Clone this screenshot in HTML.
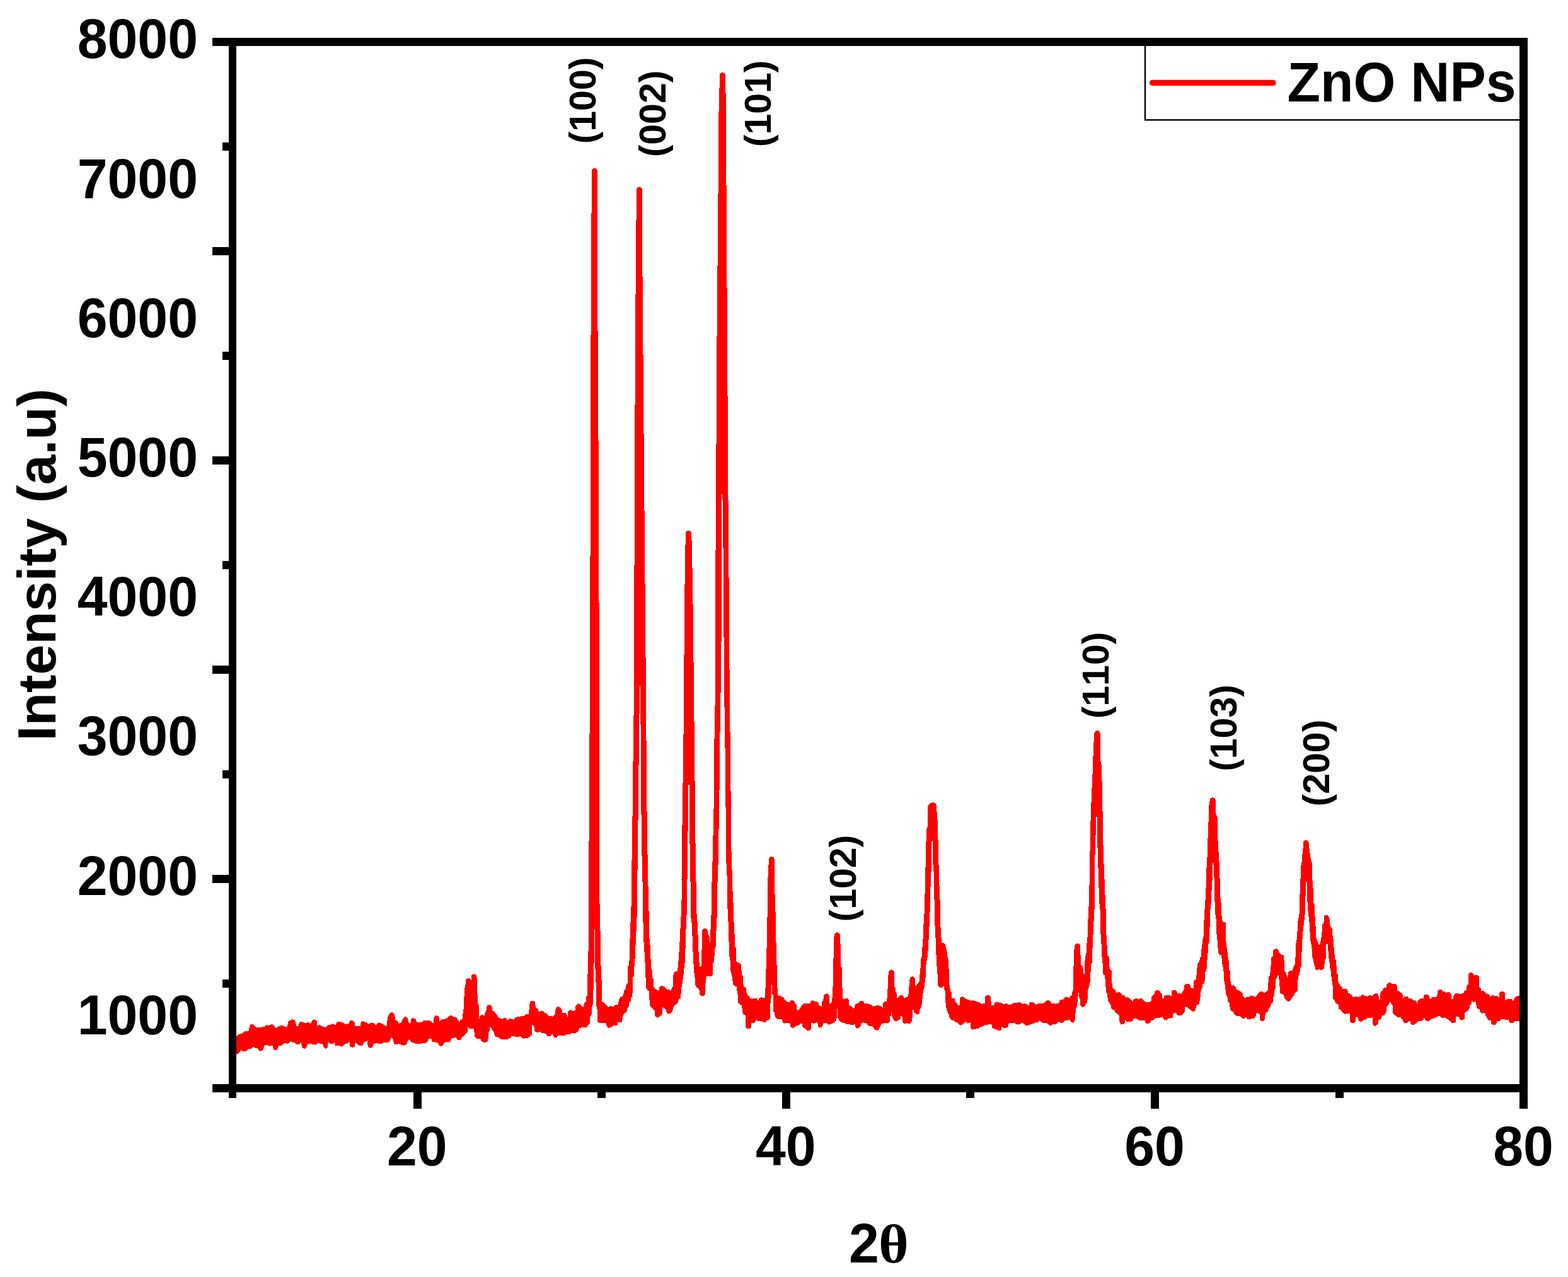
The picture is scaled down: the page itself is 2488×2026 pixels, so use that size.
<!DOCTYPE html>
<html lang="en"><head><meta charset="utf-8"><title>XRD pattern of ZnO NPs</title>
<style>html,body{margin:0;padding:0;background:#fff;overflow:hidden}svg{display:block}</style></head>
<body>
<svg width="2488" height="2026" viewBox="0 0 2488 2026">
<rect width="2488" height="2026" fill="#fff"/>
<polygon points="375.0,1644.5 374.8,1644.5 378.3,1641.0 384.6,1639.3 388.1,1636.1 394.5,1635.4 396.9,1625.5 402.2,1625.2 406.4,1629.8 416.3,1629.5 419.1,1629.0 421.9,1626.2 426.1,1626.9 431.8,1624.8 435.3,1627.6 437.4,1631.2 444.4,1627.2 448.6,1627.2 451.5,1629.0 455.7,1628.6 457.8,1619.9 464.1,1617.1 468.3,1619.2 470.5,1627.6 473.3,1627.6 475.4,1621.6 479.6,1621.0 483.1,1623.0 488.7,1622.2 493.0,1623.8 495.8,1618.2 498.6,1617.1 502.4,1619.2 503.5,1626.9 507.7,1626.2 512.7,1629.0 516.2,1629.8 519.7,1626.7 523.9,1626.2 528.1,1624.1 532.4,1626.7 534.5,1621.6 538.7,1621.0 544.3,1622.4 548.5,1624.8 553.5,1624.1 554.9,1619.6 559.8,1619.2 562.6,1622.0 563.3,1628.1 571.8,1628.1 572.7,1621.3 576.0,1620.2 582.3,1622.7 585.1,1624.8 589.4,1622.3 593.6,1623.4 596.4,1626.9 597.8,1624.1 601.3,1622.3 606.2,1624.1 611.2,1626.9 613.3,1628.3 615.4,1612.9 618.9,1607.2 622.0,1605.8 625.9,1608.6 627.3,1617.8 631.6,1621.0 633.0,1623.8 636.5,1622.7 639.3,1615.7 642.8,1612.9 647.0,1615.0 648.4,1622.0 651.3,1624.1 652.0,1617.1 654.8,1615.0 660.0,1617.1 660.0,1619.3 663.5,1622.4 668.4,1621.7 673.4,1618.9 677.6,1619.6 681.1,1618.9 685.3,1621.7 687.9,1623.8 688.6,1613.3 692.4,1610.9 696.3,1612.6 697.3,1620.3 700.8,1617.5 704.3,1616.8 708.5,1616.1 712.8,1611.9 716.3,1610.9 720.5,1614.0 724.0,1614.3 726.1,1616.8 728.7,1621.3 730.4,1618.5 733.4,1617.5 734.6,1606.9 736.0,1597.1 736.7,1576.0 737.7,1564.7 738.8,1560.5 739.5,1553.5 743.0,1551.8 746.5,1553.2 747.5,1554.9 748.4,1547.1 752.2,1545.0 756.4,1547.1 757.1,1566.8 757.8,1585.8 758.5,1591.5 759.6,1595.4 760.2,1617.5 761.3,1612.6 764.1,1610.0 769.0,1611.2 769.8,1606.2 772.3,1601.3 772.6,1595.7 776.1,1594.0 780.3,1595.7 781.0,1602.7 783.8,1604.4 786.6,1608.6 788.7,1610.5 790.9,1614.7 795.1,1615.7 797.2,1616.8 799.3,1615.1 802.8,1615.4 805.6,1618.9 807.7,1616.5 811.3,1616.1 814.5,1617.9 816.9,1615.4 821.8,1612.6 826.0,1612.6 828.8,1611.9 832.4,1611.4 833.8,1609.0 838.7,1608.6 839.4,1602.7 840.4,1593.6 841.5,1589.3 845.0,1587.9 848.5,1589.3 850.0,1598.5 852.1,1599.2 854.2,1601.6 854.9,1605.8 858.4,1603.8 861.2,1604.1 864.7,1606.9 867.5,1608.1 869.7,1611.2 872.5,1611.9 876.7,1612.6 879.5,1610.0 881.2,1609.8 881.6,1599.2 885.1,1597.1 888.6,1597.8 891.5,1602.0 892.2,1606.9 897.1,1606.9 899.2,1609.0 900.3,1614.7 901.3,1604.8 904.8,1602.0 909.8,1604.1 912.6,1603.0 913.3,1595.7 917.5,1592.2 921.0,1593.6 923.1,1597.1 925.9,1597.8 927.3,1591.5 929.9,1588.6 930.4,1581.6 932.3,1579.5 932.5,1545.0 933.3,1511.3 934.4,1500.0 934.0,1420.0 935.9,1100.0 936.9,750.0 937.9,400.0 939.2,270.9 939.5,269.3 940.4,267.9 941.8,267.0 943.5,266.7 945.1,267.0 946.5,267.9 947.4,269.3 947.7,270.9 947.8,400.0 949.8,750.0 951.0,1100.0 951.1,1420.0 951.1,1420.0 952.2,1456.6 953.4,1529.7 954.5,1553.8 955.0,1588.8 958.1,1590.3 961.2,1594.2 965.1,1597.7 969.0,1596.1 972.9,1597.0 976.8,1594.2 981.0,1593.9 982.2,1585.7 985.0,1581.5 988.1,1580.5 989.7,1575.6 990.8,1571.2 992.8,1568.6 993.6,1561.9 995.5,1560.0 996.2,1533.6 998.3,1531.2 999.3,1496.2 1000.4,1465.9 1001.4,1441.8 1002.1,1420.0 1002.1,1420.0 1002.4,1372.0 1003.4,1305.6 1004.4,1216.0 1006.0,1100.0 1006.9,750.0 1008.9,400.0 1010.1,300.7 1010.4,299.1 1011.4,297.7 1012.8,296.7 1014.5,296.4 1016.1,296.7 1017.5,297.7 1018.5,299.1 1018.8,300.7 1019.2,400.0 1022.0,750.0 1025.0,1100.0 1026.0,1249.0 1027.0,1322.8 1028.0,1388.0 1028.9,1420.0 1028.9,1420.0 1029.7,1451.9 1030.5,1489.2 1031.7,1500.9 1032.8,1528.9 1033.6,1537.5 1034.8,1540.6 1035.4,1551.5 1036.7,1553.8 1037.0,1564.7 1039.8,1569.3 1042.9,1570.1 1045.2,1573.2 1046.0,1567.0 1047.6,1565.0 1051.5,1563.9 1054.6,1566.2 1059.2,1570.1 1062.3,1570.1 1064.7,1571.7 1066.2,1566.2 1068.1,1565.5 1068.6,1543.7 1070.9,1541.7 1074.8,1541.0 1075.6,1535.9 1076.3,1527.3 1077.4,1511.8 1078.4,1496.2 1079.5,1472.9 1080.7,1451.1 1081.8,1420.0 1081.8,1420.0 1081.5,1396.0 1082.0,1339.0 1083.0,1281.5 1084.5,1166.5 1085.1,1100.0 1086.1,957.0 1087.3,870.0 1088.1,846.2 1088.4,844.4 1089.4,843.0 1090.8,842.0 1092.5,841.7 1094.3,842.0 1095.7,843.0 1096.7,844.4 1097.0,846.2 1097.8,865.0 1098.8,915.0 1099.8,977.0 1100.8,1081.0 1101.6,1153.0 1102.6,1247.0 1103.6,1347.0 1104.6,1404.0 1105.1,1420.0 1105.1,1420.0 1105.4,1448.8 1106.7,1465.1 1107.8,1489.2 1108.7,1514.9 1109.8,1529.7 1110.1,1534.0 1112.9,1532.8 1113.4,1511.8 1114.2,1476.0 1116.0,1473.7 1119.1,1472.9 1122.2,1474.4 1123.8,1482.2 1125.7,1486.9 1126.1,1494.7 1127.2,1494.7 1127.4,1476.0 1128.5,1452.7 1129.2,1420.0 1129.2,1420.0 1129.4,1403.0 1130.4,1372.0 1131.5,1324.8 1132.5,1284.5 1133.5,1172.6 1134.9,1100.0 1134.9,1016.0 1135.9,787.0 1136.9,654.0 1137.9,458.5 1138.9,400.0 1139.5,308.8 1140.3,184.4 1141.4,145.0 1142.0,119.4 1142.3,117.7 1143.3,116.3 1144.7,115.3 1146.3,115.0 1148.0,115.3 1149.4,116.3 1150.4,117.7 1150.7,119.4 1151.7,155.0 1152.8,344.0 1153.6,471.6 1154.6,643.0 1155.6,808.5 1156.7,937.5 1157.7,1090.7 1158.7,1175.6 1159.7,1272.0 1160.7,1369.0 1161.7,1383.0 1162.7,1420.0 1162.7,1420.0 1163.5,1432.4 1164.6,1465.9 1165.8,1486.9 1166.6,1503.2 1167.8,1504.8 1168.1,1525.0 1170.5,1526.6 1173.6,1528.1 1175.9,1530.5 1176.4,1539.0 1177.5,1546.0 1178.7,1548.3 1179.5,1562.3 1180.6,1565.9 1183.4,1566.5 1184.2,1574.8 1186.0,1578.4 1188.4,1580.2 1190.4,1583.7 1194.6,1584.6 1196.9,1584.1 1201.6,1584.1 1203.1,1588.8 1204.4,1583.7 1207.8,1582.1 1210.9,1583.0 1213.7,1582.6 1214.3,1574.0 1215.3,1543.7 1216.4,1510.2 1217.4,1458.9 1218.4,1420.0 1218.4,1420.0 1218.1,1400.0 1219.2,1376.0 1220.2,1363.2 1220.5,1361.6 1221.4,1360.2 1222.8,1359.3 1224.4,1359.0 1226.0,1359.3 1227.4,1360.2 1228.3,1361.6 1228.6,1363.2 1229.6,1423.6 1229.6,1430.0 1229.6,1430.0 1230.6,1448.7 1231.2,1484.4 1232.4,1524.9 1233.2,1562.2 1234.0,1577.0 1235.6,1580.1 1238.7,1580.1 1242.6,1582.1 1244.9,1585.6 1248.8,1589.5 1252.7,1589.9 1254.2,1587.4 1258.1,1587.1 1260.8,1589.5 1261.7,1592.6 1263.9,1593.3 1264.3,1601.9 1266.7,1602.7 1270.6,1598.0 1272.9,1594.1 1276.8,1591.5 1283.0,1591.5 1285.3,1591.8 1286.9,1588.4 1290.0,1587.1 1293.1,1589.0 1296.2,1589.0 1298.6,1591.0 1299.3,1594.6 1303.7,1596.8 1304.3,1589.0 1306.3,1587.1 1307.4,1578.6 1311.0,1576.2 1314.1,1577.8 1315.7,1580.1 1316.1,1591.8 1318.8,1591.8 1320.3,1587.9 1320.8,1575.5 1321.9,1559.9 1322.4,1526.5 1323.1,1487.6 1324.5,1481.3 1328.1,1479.0 1331.7,1480.6 1333.1,1483.7 1333.6,1501.6 1334.3,1533.5 1335.9,1535.8 1336.4,1562.2 1337.0,1584.8 1339.0,1585.6 1341.3,1584.0 1344.5,1584.5 1346.8,1586.8 1347.3,1594.9 1350.7,1596.1 1354.1,1599.9 1356.1,1599.3 1356.6,1594.1 1359.2,1592.1 1362.3,1591.8 1363.9,1588.7 1367.8,1587.9 1370.9,1589.5 1371.7,1592.6 1375.6,1592.1 1381.8,1593.7 1384.9,1596.8 1388.8,1595.7 1391.9,1594.9 1397.3,1596.1 1400.5,1598.8 1401.2,1591.0 1403.6,1589.0 1407.0,1589.0 1407.9,1580.9 1408.6,1566.9 1409.3,1548.2 1410.6,1540.5 1414.5,1538.1 1417.9,1539.7 1418.8,1542.0 1419.1,1565.3 1420.7,1567.7 1421.2,1573.1 1422.7,1576.2 1423.3,1583.2 1426.1,1581.7 1427.7,1579.3 1431.6,1579.0 1433.9,1580.9 1435.2,1584.8 1437.8,1581.7 1441.2,1580.9 1442.5,1564.6 1443.6,1552.9 1445.6,1549.8 1448.7,1549.0 1451.8,1552.1 1452.6,1564.6 1454.9,1562.2 1458.8,1556.8 1459.6,1545.1 1460.7,1534.2 1461.4,1521.8 1463.0,1516.3 1463.5,1503.1 1464.6,1488.3 1465.5,1466.6 1466.6,1448.7 1467.0,1430.0 1467.0,1430.0 1467.3,1421.7 1468.1,1406.7 1468.7,1361.7 1469.6,1331.8 1470.4,1315.0 1471.9,1311.0 1472.2,1280.0 1473.1,1277.0 1476.5,1274.3 1480.8,1273.0 1484.0,1274.0 1485.4,1276.5 1486.0,1277.0 1486.6,1289.7 1487.7,1303.0 1488.3,1318.0 1488.9,1356.6 1490.0,1383.6 1491.0,1425.7 1491.8,1430.0 1491.8,1430.0 1492.2,1465.8 1493.3,1484.4 1494.1,1496.1 1499.2,1496.6 1500.3,1501.6 1502.4,1509.3 1503.9,1521.0 1505.0,1523.3 1505.5,1537.3 1506.2,1561.5 1508.1,1572.3 1509.7,1574.7 1510.6,1584.0 1514.8,1584.3 1515.9,1589.9 1518.7,1591.8 1520.2,1595.2 1523.0,1594.9 1523.4,1583.2 1526.2,1581.2 1529.6,1581.7 1531.9,1584.8 1535.0,1585.6 1538.1,1586.3 1540.0,1587.9 1540.0,1587.9 1543.1,1587.1 1547.0,1587.9 1550.9,1589.5 1555.6,1591.0 1557.9,1593.0 1560.2,1592.1 1562.9,1591.8 1563.3,1581.7 1565.7,1579.3 1569.6,1579.0 1571.9,1580.9 1572.4,1587.9 1573.1,1594.9 1577.0,1594.9 1578.1,1591.0 1580.8,1589.5 1584.3,1589.5 1586.7,1591.0 1589.8,1591.5 1592.9,1593.7 1595.2,1592.1 1598.3,1592.6 1600.7,1594.1 1603.8,1594.1 1606.1,1592.1 1609.2,1591.0 1614.7,1591.0 1617.0,1589.9 1620.1,1591.0 1622.5,1593.0 1625.6,1592.1 1629.5,1593.0 1631.8,1596.1 1633.3,1591.0 1635.7,1589.5 1639.6,1589.5 1641.9,1592.6 1645.0,1593.7 1647.3,1592.1 1655.9,1592.1 1658.2,1589.5 1661.3,1587.4 1665.2,1587.4 1667.6,1589.5 1668.3,1591.8 1672.2,1591.5 1674.6,1592.6 1676.9,1591.5 1680.0,1592.1 1681.3,1587.1 1683.1,1585.9 1687.0,1585.6 1689.3,1582.5 1694.0,1582.1 1696.3,1583.2 1698.7,1580.1 1701.0,1578.6 1701.5,1573.9 1702.6,1570.8 1703.0,1552.9 1704.1,1509.3 1705.2,1500.0 1707.2,1497.2 1712.7,1497.2 1713.9,1499.2 1714.2,1505.5 1715.0,1531.1 1717.3,1532.7 1718.6,1537.3 1719.7,1545.1 1720.5,1545.9 1721.2,1527.2 1722.3,1517.1 1723.9,1510.9 1724.3,1497.7 1725.4,1490.7 1726.4,1460.3 1727.5,1437.8 1728.2,1430.0 1728.2,1430.0 1728.8,1380.0 1729.5,1351.0 1730.7,1293.4 1731.8,1265.7 1733.5,1228.8 1734.8,1192.0 1736.0,1166.0 1736.5,1163.5 1736.8,1161.8 1737.8,1160.3 1739.3,1159.3 1741.0,1159.0 1742.8,1159.3 1744.3,1160.3 1745.3,1161.8 1745.6,1163.5 1746.1,1166.0 1746.4,1208.0 1748.0,1215.0 1748.7,1247.3 1749.6,1291.0 1750.7,1351.0 1751.9,1380.0 1753.9,1430.0 1753.9,1430.0 1754.7,1445.6 1755.2,1480.6 1756.2,1490.7 1757.0,1514.8 1759.7,1518.7 1760.1,1531.9 1761.2,1537.3 1763.7,1540.5 1764.0,1549.0 1764.8,1566.9 1767.9,1569.2 1770.2,1570.8 1771.0,1575.5 1773.4,1574.4 1776.5,1574.4 1779.3,1576.2 1779.9,1579.3 1783.5,1579.3 1785.8,1581.7 1786.6,1583.2 1788.9,1582.1 1791.2,1583.2 1794.4,1586.3 1797.5,1589.5 1798.6,1585.9 1801.4,1584.3 1804.5,1584.3 1806.3,1585.9 1808.4,1584.3 1811.5,1584.3 1814.6,1587.4 1817.7,1589.5 1822.4,1589.5 1824.4,1589.9 1827.0,1587.1 1827.5,1580.9 1829.4,1578.6 1831.7,1577.0 1832.5,1573.1 1834.8,1571.3 1838.7,1571.3 1841.0,1573.9 1841.8,1576.2 1843.7,1577.0 1844.1,1584.0 1846.8,1584.3 1847.2,1580.6 1849.6,1578.6 1855.0,1578.6 1858.9,1580.1 1859.2,1572.3 1860.0,1572.3 1860.0,1571.5 1863.1,1570.4 1865.9,1571.5 1868.6,1575.7 1872.4,1576.1 1874.8,1576.9 1877.1,1572.2 1878.4,1570.7 1879.0,1563.7 1881.0,1561.0 1886.4,1561.0 1888.8,1562.9 1889.6,1567.9 1893.0,1568.4 1893.9,1568.4 1894.2,1556.7 1896.1,1554.3 1898.1,1553.6 1898.9,1541.1 1900.1,1530.2 1901.2,1527.1 1903.2,1524.8 1904.3,1519.3 1905.9,1517.5 1906.4,1506.9 1907.4,1498.8 1908.5,1489.8 1909.8,1484.8 1910.1,1467.2 1911.3,1445.5 1912.4,1429.9 1913.4,1415.1 1914.1,1381.7 1915.2,1370.0 1915.2,1370.0 1916.2,1337.0 1917.3,1314.0 1918.0,1279.5 1919.4,1272.0 1919.7,1269.8 1920.0,1268.1 1921.0,1266.6 1922.5,1265.6 1924.2,1265.3 1925.9,1265.6 1927.4,1266.6 1928.4,1268.1 1928.7,1269.8 1929.5,1291.0 1931.6,1298.0 1932.3,1330.0 1933.5,1351.0 1934.7,1370.0 1934.7,1370.0 1935.0,1393.3 1935.9,1393.3 1936.2,1422.1 1937.5,1432.2 1938.1,1450.1 1939.3,1459.5 1940.9,1462.6 1943.7,1463.3 1944.8,1464.9 1945.3,1492.1 1946.3,1501.5 1947.4,1509.2 1948.4,1518.6 1949.5,1524.0 1950.2,1538.0 1951.5,1540.3 1952.1,1555.1 1953.3,1560.1 1954.1,1563.7 1958.0,1563.2 1960.3,1565.2 1961.9,1569.9 1965.8,1571.5 1968.9,1573.5 1971.7,1576.1 1972.8,1580.8 1975.1,1583.4 1977.5,1581.9 1982.1,1581.6 1983.7,1580.0 1986.8,1579.2 1989.9,1580.8 1992.2,1581.9 1994.6,1578.5 1999.2,1573.5 2003.1,1573.0 2005.5,1575.0 2008.6,1573.8 2011.7,1570.7 2013.2,1548.9 2014.8,1547.3 2016.3,1537.2 2017.1,1519.3 2019.5,1517.0 2020.2,1507.7 2022.6,1505.7 2025.7,1505.3 2028.3,1506.9 2029.6,1510.8 2032.4,1514.4 2035.0,1514.7 2037.3,1517.0 2038.1,1540.3 2041.2,1543.5 2042.0,1551.2 2043.3,1550.5 2043.9,1541.9 2046.7,1540.3 2050.6,1539.9 2052.9,1533.3 2054.8,1529.5 2055.7,1516.2 2056.3,1496.8 2057.6,1490.6 2058.4,1479.7 2059.4,1461.8 2060.7,1454.8 2061.9,1447.8 2062.2,1426.8 2063.3,1401.1 2064.1,1374.7 2065.4,1370.0 2065.4,1370.0 2066.0,1360.0 2068.0,1341.0 2068.0,1337.2 2068.3,1335.6 2069.2,1334.2 2070.6,1333.3 2072.2,1333.0 2073.9,1333.3 2075.3,1334.2 2076.2,1335.6 2076.5,1337.2 2076.8,1341.0 2079.3,1360.0 2081.7,1370.0 2081.7,1370.0 2081.7,1395.7 2082.8,1397.2 2083.2,1408.9 2084.0,1410.4 2084.3,1433.0 2085.6,1435.3 2086.4,1451.7 2087.4,1468.0 2088.4,1488.2 2089.9,1491.3 2091.0,1494.5 2092.6,1498.8 2094.1,1498.8 2094.9,1494.5 2096.2,1492.1 2096.8,1483.6 2097.7,1477.3 2098.3,1466.5 2100.4,1464.9 2100.8,1453.2 2102.7,1452.0 2106.6,1452.0 2108.6,1454.8 2109.7,1458.7 2110.5,1466.5 2111.7,1470.3 2113.6,1472.7 2114.4,1483.6 2115.4,1488.2 2116.4,1501.5 2117.5,1513.9 2118.2,1520.9 2119.5,1523.2 2120.6,1532.6 2121.4,1544.2 2122.6,1546.6 2123.7,1559.0 2126.0,1561.4 2127.3,1564.5 2129.4,1565.7 2130.7,1569.4 2133.8,1569.1 2136.9,1569.4 2138.5,1571.5 2139.2,1576.1 2142.4,1576.6 2144.7,1578.5 2146.2,1581.6 2151.7,1581.3 2155.6,1581.6 2158.7,1580.8 2160.0,1579.0 2162.5,1578.1 2165.7,1579.7 2169.5,1580.9 2172.0,1579.4 2175.2,1579.0 2177.7,1580.3 2180.3,1577.1 2183.4,1575.9 2187.2,1577.8 2188.1,1586.0 2189.8,1585.4 2190.1,1575.2 2191.7,1572.7 2193.6,1572.1 2194.4,1568.9 2196.7,1567.0 2199.9,1566.7 2200.3,1562.2 2202.4,1559.8 2205.6,1558.8 2208.8,1560.7 2211.9,1560.9 2215.1,1561.3 2216.7,1563.8 2217.0,1572.1 2219.3,1572.1 2222.1,1574.6 2224.0,1575.6 2225.9,1578.4 2226.1,1585.0 2227.4,1582.2 2229.0,1581.2 2233.5,1581.2 2235.4,1584.1 2239.8,1584.1 2242.3,1587.0 2245.5,1587.0 2248.0,1589.2 2248.4,1592.3 2249.3,1588.3 2251.2,1586.2 2254.4,1584.1 2258.8,1584.1 2259.2,1579.4 2260.7,1578.1 2265.7,1578.1 2267.4,1579.7 2268.3,1583.5 2270.4,1584.7 2272.1,1582.2 2279.0,1581.9 2280.3,1579.4 2281.3,1571.8 2282.8,1570.2 2287.3,1570.2 2289.2,1572.7 2292.3,1573.1 2294.9,1574.8 2296.8,1574.3 2299.3,1574.3 2301.6,1575.9 2302.9,1577.4 2303.1,1585.0 2305.9,1585.0 2306.3,1579.9 2308.2,1577.4 2310.1,1576.1 2314.5,1576.1 2317.0,1577.8 2318.9,1576.5 2322.1,1575.6 2323.4,1572.3 2326.9,1570.8 2327.4,1563.8 2328.4,1561.9 2330.0,1561.9 2330.3,1545.7 2332.2,1543.3 2335.4,1543.2 2337.9,1545.5 2339.6,1547.7 2340.5,1547.1 2344.3,1547.1 2346.8,1549.3 2347.2,1565.7 2349.7,1568.0 2350.2,1572.1 2353.1,1572.3 2356.0,1573.3 2357.6,1575.9 2361.4,1577.4 2363.9,1579.9 2364.9,1581.9 2366.2,1579.7 2368.3,1579.0 2370.9,1579.9 2375.3,1579.9 2377.8,1581.6 2378.8,1583.2 2379.1,1575.6 2381.4,1573.3 2385.4,1573.1 2387.7,1575.2 2388.2,1587.3 2391.1,1585.4 2394.3,1585.0 2398.1,1585.0 2400.0,1586.6 2400.6,1588.3 2402.5,1584.7 2403.8,1581.9 2407.0,1580.3 2410.1,1580.0 2412.0,1580.9 2412.0,1620.4 2408.9,1620.4 2407.0,1619.5 2403.8,1619.5 2401.9,1621.7 2399.4,1623.3 2396.8,1623.3 2394.9,1621.2 2393.7,1617.4 2391.8,1618.3 2388.6,1618.3 2386.1,1617.0 2382.9,1617.0 2380.4,1619.5 2377.2,1620.4 2375.3,1619.5 2374.7,1622.7 2373.4,1625.0 2370.9,1626.5 2368.3,1626.3 2366.4,1624.0 2365.8,1618.7 2362.6,1618.7 2360.7,1617.6 2359.5,1614.5 2357.6,1612.3 2356.9,1608.2 2355.7,1606.9 2352.5,1607.5 2350.0,1606.9 2348.4,1605.0 2347.4,1600.9 2345.5,1600.6 2343.4,1598.7 2342.4,1593.6 2341.7,1588.5 2339.8,1589.5 2337.3,1589.5 2335.2,1587.5 2334.8,1592.3 2332.2,1594.9 2331.6,1599.7 2329.7,1602.5 2327.8,1605.2 2325.9,1605.6 2324.0,1606.9 2323.6,1616.6 2321.5,1618.3 2318.9,1618.7 2317.0,1617.6 2315.5,1614.5 2313.9,1612.8 2310.1,1612.8 2309.7,1621.4 2307.5,1623.0 2305.0,1623.3 2303.1,1622.5 2301.2,1619.9 2299.3,1618.9 2298.0,1617.0 2295.5,1616.4 2293.6,1615.1 2292.3,1614.1 2290.4,1615.4 2287.9,1615.4 2286.0,1614.1 2284.7,1612.0 2281.6,1612.0 2279.7,1613.6 2277.8,1613.9 2274.6,1616.4 2270.4,1616.6 2268.9,1618.7 2267.0,1620.4 2263.2,1620.2 2261.3,1618.3 2260.7,1615.7 2259.4,1615.4 2258.8,1617.4 2256.3,1619.5 2251.2,1619.5 2249.3,1621.4 2246.8,1623.3 2244.2,1625.5 2239.8,1625.5 2238.5,1624.0 2237.9,1619.9 2235.4,1619.5 2234.7,1620.8 2231.6,1623.3 2229.0,1623.3 2227.1,1621.4 2225.6,1618.3 2224.0,1617.0 2222.7,1614.5 2217.0,1613.6 2213.8,1610.7 2211.3,1609.4 2210.3,1607.5 2209.8,1594.9 2208.1,1593.6 2206.9,1590.4 2205.0,1589.2 2203.7,1594.2 2201.8,1595.5 2200.3,1597.4 2199.9,1603.5 2198.6,1607.5 2196.7,1610.7 2193.2,1611.1 2191.7,1615.7 2189.8,1617.6 2187.2,1617.9 2186.8,1623.3 2185.3,1625.9 2182.8,1627.8 2179.6,1627.1 2178.1,1624.6 2177.7,1614.1 2175.8,1615.4 2172.7,1615.4 2170.1,1614.9 2167.0,1617.6 2163.2,1617.9 2161.9,1620.2 2160.0,1620.8 2157.9,1620.8 2155.6,1618.9 2154.8,1614.2 2150.9,1614.2 2150.6,1620.5 2148.6,1622.8 2143.9,1622.8 2142.4,1620.8 2141.6,1608.0 2137.7,1608.3 2133.8,1608.8 2131.5,1606.8 2128.8,1605.2 2127.6,1602.1 2124.5,1601.0 2123.7,1594.0 2119.0,1590.9 2117.5,1587.0 2115.4,1584.7 2114.8,1564.5 2113.6,1557.5 2112.3,1548.9 2111.7,1540.3 2110.5,1535.7 2109.7,1527.9 2108.4,1520.1 2107.4,1506.9 2106.6,1497.9 2104.2,1498.3 2103.9,1520.1 2101.9,1524.0 2101.1,1536.5 2099.6,1538.3 2095.2,1538.8 2094.1,1537.2 2092.6,1538.3 2088.7,1538.8 2086.8,1538.0 2086.4,1531.8 2084.8,1529.5 2084.0,1523.2 2082.5,1518.6 2081.7,1506.9 2080.6,1498.3 2079.4,1492.9 2078.3,1475.0 2077.5,1463.3 2076.2,1450.9 2075.2,1443.9 2074.4,1428.3 2074.4,1401.1 2073.1,1398.8 2072.4,1399.6 2071.9,1412.0 2070.8,1442.3 2070.3,1457.1 2069.2,1461.8 2067.7,1475.8 2066.9,1485.9 2065.7,1499.1 2065.4,1517.0 2064.6,1533.3 2063.0,1535.7 2062.6,1541.9 2061.5,1545.8 2059.9,1548.9 2059.1,1559.8 2058.8,1571.5 2056.8,1573.8 2054.5,1576.1 2053.7,1578.5 2050.6,1582.4 2048.6,1585.5 2045.9,1588.6 2043.3,1588.6 2040.5,1585.9 2038.6,1583.9 2036.6,1578.5 2034.2,1577.2 2031.4,1575.7 2030.8,1567.6 2029.6,1556.7 2029.3,1547.3 2028.0,1547.3 2026.1,1551.2 2024.1,1554.3 2023.7,1567.6 2022.6,1569.9 2021.8,1580.0 2020.2,1581.9 2019.5,1589.7 2016.3,1594.0 2015.6,1597.4 2013.2,1600.2 2012.5,1603.4 2010.1,1606.2 2007.8,1607.2 2007.0,1617.0 2004.7,1619.7 2001.6,1619.7 1999.2,1617.4 1998.5,1608.8 1995.3,1606.8 1993.5,1608.0 1992.2,1613.0 1989.9,1615.8 1986.0,1615.5 1983.7,1617.4 1979.0,1617.4 1977.0,1613.5 1975.1,1615.5 1971.2,1615.5 1967.3,1611.9 1960.3,1611.4 1958.3,1608.8 1957.2,1604.9 1953.3,1604.1 1951.8,1601.0 1951.0,1591.7 1948.4,1588.6 1947.4,1581.6 1945.6,1578.5 1944.8,1572.2 1943.7,1562.9 1942.5,1556.7 1941.7,1542.7 1940.9,1534.9 1939.7,1531.8 1938.6,1520.9 1937.8,1515.0 1935.5,1514.7 1933.4,1512.3 1932.3,1501.5 1931.6,1491.3 1930.3,1480.5 1929.7,1458.7 1928.5,1450.9 1927.2,1425.2 1926.6,1396.4 1926.1,1374.7 1925.0,1370.0 1925.0,1370.0 1924.4,1369.4 1923.8,1370.0 1923.8,1370.0 1923.5,1398.0 1922.5,1413.6 1921.8,1433.0 1920.4,1443.9 1919.9,1469.6 1918.8,1472.7 1918.6,1495.2 1917.2,1499.1 1916.8,1509.2 1915.7,1520.1 1914.8,1534.9 1913.7,1541.1 1912.1,1542.7 1911.6,1555.9 1910.6,1560.1 1908.2,1561.0 1907.4,1567.6 1905.9,1569.9 1905.1,1576.9 1904.0,1585.5 1902.8,1592.5 1900.8,1594.3 1898.1,1595.3 1897.0,1602.6 1895.0,1604.6 1891.9,1604.6 1888.8,1602.1 1885.7,1599.9 1884.1,1597.9 1881.8,1597.4 1880.2,1596.4 1879.4,1606.5 1876.3,1609.6 1874.0,1610.8 1867.8,1610.8 1865.9,1607.2 1861.6,1607.2 1860.8,1615.0 1860.0,1615.0 1860.0,1615.4 1857.4,1615.4 1854.3,1615.9 1850.4,1618.6 1847.2,1617.9 1845.7,1615.4 1844.9,1613.3 1841.8,1614.3 1838.7,1615.1 1835.6,1615.4 1832.8,1615.4 1830.1,1618.6 1826.2,1619.0 1825.0,1622.9 1820.8,1624.5 1817.7,1622.9 1816.9,1619.0 1813.8,1619.0 1806.8,1618.6 1802.9,1615.9 1799.0,1615.9 1796.7,1620.1 1792.8,1621.4 1787.4,1621.4 1785.5,1617.5 1785.0,1622.1 1783.5,1624.5 1778.3,1624.5 1776.5,1621.4 1775.7,1611.7 1773.4,1608.9 1769.9,1607.0 1768.7,1602.7 1766.4,1602.4 1763.7,1601.1 1762.8,1595.7 1761.2,1592.6 1759.0,1588.7 1757.8,1586.3 1757.0,1576.2 1755.5,1574.7 1754.7,1568.5 1753.6,1554.5 1753.1,1546.7 1751.6,1546.7 1750.5,1545.1 1750.0,1531.1 1748.8,1524.1 1747.7,1498.5 1746.6,1489.9 1746.1,1449.4 1745.0,1437.8 1744.1,1430.0 1744.1,1430.0 1742.7,1380.0 1742.2,1371.7 1741.0,1325.6 1740.6,1296.0 1740.0,1293.4 1739.4,1296.0 1738.8,1316.4 1737.6,1351.0 1737.1,1380.0 1737.1,1430.0 1737.1,1430.0 1736.3,1447.1 1735.2,1466.6 1734.2,1491.4 1733.2,1509.3 1732.9,1527.2 1731.4,1529.6 1730.6,1539.7 1729.8,1556.8 1728.6,1562.2 1727.5,1566.9 1725.9,1571.6 1725.4,1590.2 1723.3,1592.6 1720.5,1597.2 1716.6,1597.7 1714.5,1595.2 1713.9,1585.6 1712.4,1581.7 1711.6,1575.5 1710.8,1574.7 1710.3,1584.8 1709.3,1591.8 1708.3,1598.3 1706.8,1601.1 1706.1,1615.9 1704.9,1620.6 1702.6,1622.6 1699.5,1621.4 1697.1,1617.5 1694.8,1618.6 1689.0,1619.0 1687.8,1621.4 1685.5,1623.2 1682.3,1622.9 1679.7,1620.6 1677.7,1623.7 1675.3,1625.2 1670.7,1625.2 1668.3,1627.6 1664.8,1626.8 1662.9,1624.2 1660.6,1623.2 1654.3,1622.9 1652.0,1621.4 1649.7,1619.0 1645.8,1622.6 1642.7,1622.1 1640.3,1623.7 1637.2,1624.5 1634.1,1625.7 1630.2,1627.6 1626.8,1626.3 1624.8,1623.7 1620.1,1623.2 1617.8,1625.2 1615.5,1625.7 1611.6,1624.2 1607.7,1622.6 1603.0,1622.9 1600.4,1624.5 1599.1,1629.1 1596.8,1631.0 1593.7,1631.5 1589.8,1628.8 1589.0,1633.0 1586.7,1635.4 1583.6,1635.4 1580.8,1633.0 1576.6,1632.2 1574.5,1630.7 1573.4,1625.7 1569.6,1624.5 1567.2,1626.3 1562.6,1626.0 1559.4,1628.4 1556.3,1628.8 1553.2,1631.5 1549.6,1631.5 1547.0,1633.5 1541.6,1633.0 1540.0,1630.7 1540.0,1622.1 1538.1,1623.2 1535.0,1623.7 1532.7,1621.4 1530.4,1622.1 1528.0,1625.2 1524.9,1626.8 1521.8,1625.7 1519.5,1622.1 1516.4,1621.7 1513.2,1619.0 1509.4,1617.9 1506.6,1615.1 1505.9,1609.7 1503.9,1606.6 1501.9,1600.8 1500.8,1595.7 1500.0,1584.0 1499.6,1572.3 1498.5,1570.0 1497.7,1563.8 1495.4,1566.6 1490.7,1566.6 1488.4,1563.0 1487.9,1549.8 1486.8,1537.3 1485.7,1520.2 1484.5,1488.3 1483.2,1463.4 1482.9,1430.0 1482.9,1430.0 1482.3,1425.7 1482.0,1387.7 1480.2,1368.7 1480.0,1335.3 1479.0,1334.5 1477.9,1335.8 1477.9,1374.4 1476.5,1407.3 1475.9,1430.0 1475.9,1430.0 1475.6,1444.8 1474.7,1466.6 1473.6,1489.1 1472.3,1513.2 1471.2,1521.8 1469.7,1526.5 1468.6,1549.8 1467.4,1559.9 1466.6,1566.9 1465.0,1571.6 1463.8,1581.7 1462.7,1593.3 1461.9,1597.2 1459.6,1601.1 1458.8,1608.1 1455.7,1609.7 1452.6,1608.6 1450.2,1605.8 1449.5,1601.9 1447.9,1602.7 1447.4,1619.0 1444.8,1623.7 1441.7,1624.5 1439.4,1622.9 1437.0,1623.7 1434.7,1623.7 1432.4,1622.1 1431.6,1612.8 1429.2,1612.0 1428.5,1615.9 1426.9,1617.5 1423.8,1619.8 1420.7,1620.6 1417.9,1618.6 1416.8,1615.1 1415.4,1612.8 1414.5,1607.3 1414.2,1611.2 1412.1,1612.8 1411.7,1621.0 1409.0,1623.7 1405.9,1623.2 1399.7,1623.7 1397.3,1627.3 1395.0,1632.2 1392.7,1634.6 1388.8,1634.3 1386.1,1630.7 1383.3,1627.6 1378.7,1627.6 1376.8,1626.3 1375.6,1623.7 1373.2,1622.9 1369.3,1622.1 1366.2,1623.7 1365.5,1627.6 1363.1,1631.0 1360.0,1631.8 1357.7,1629.9 1356.9,1624.5 1354.1,1626.3 1350.7,1626.3 1346.8,1624.8 1342.1,1624.5 1339.8,1622.9 1335.1,1622.1 1331.2,1618.6 1329.4,1615.1 1328.9,1599.6 1328.1,1599.6 1327.8,1615.1 1326.6,1618.6 1324.5,1622.1 1321.1,1623.2 1316.5,1625.7 1313.3,1624.8 1311.8,1622.9 1308.7,1622.9 1306.3,1623.7 1305.6,1626.8 1304.0,1629.9 1300.1,1630.7 1297.8,1628.8 1297.5,1623.7 1295.9,1621.7 1293.9,1623.2 1290.8,1623.7 1287.2,1622.9 1286.6,1633.0 1283.8,1635.4 1280.7,1635.4 1277.9,1632.2 1273.7,1629.9 1272.9,1623.7 1269.8,1623.7 1268.2,1626.3 1264.3,1626.8 1260.4,1630.4 1257.3,1630.7 1254.5,1629.1 1253.4,1622.9 1248.0,1622.9 1244.1,1623.7 1241.8,1622.1 1241.0,1617.5 1240.0,1616.8 1235.8,1617.6 1232.7,1616.3 1229.9,1613.7 1228.8,1606.7 1226.8,1604.3 1226.5,1578.7 1225.2,1577.9 1224.9,1561.6 1224.1,1561.6 1223.4,1587.2 1222.1,1594.2 1221.8,1616.0 1220.2,1618.0 1217.1,1618.8 1214.8,1621.5 1210.9,1621.5 1209.4,1619.6 1202.4,1619.6 1200.0,1617.9 1198.5,1621.0 1195.4,1623.5 1192.2,1623.0 1191.9,1630.0 1189.9,1632.4 1185.2,1632.4 1183.4,1630.0 1182.9,1611.4 1180.6,1609.8 1178.6,1607.5 1177.5,1599.7 1176.7,1595.0 1173.6,1593.0 1171.2,1590.3 1170.8,1579.5 1169.7,1574.0 1168.9,1565.0 1165.8,1564.4 1163.5,1562.3 1161.9,1551.5 1161.1,1546.8 1159.6,1542.9 1158.8,1525.8 1157.6,1519.6 1156.5,1493.9 1155.7,1465.9 1154.4,1440.2 1154.1,1420.0 1154.1,1420.0 1153.4,1383.0 1152.4,1368.0 1151.4,1270.0 1150.4,1175.6 1149.0,1090.7 1148.0,930.0 1147.0,808.0 1146.4,790.0 1145.7,782.0 1145.0,790.0 1144.6,1013.0 1143.5,1100.0 1141.9,1198.8 1141.3,1284.5 1140.3,1324.8 1139.5,1372.0 1137.8,1420.0 1137.8,1420.0 1137.5,1457.3 1136.6,1475.2 1135.5,1501.7 1134.4,1505.6 1133.4,1518.0 1132.4,1526.6 1131.3,1528.9 1130.8,1546.8 1128.5,1549.1 1123.8,1549.4 1121.0,1548.3 1120.2,1553.8 1119.1,1563.9 1118.8,1577.9 1116.3,1580.2 1112.9,1580.7 1110.6,1578.7 1109.8,1571.7 1108.2,1568.6 1105.1,1566.5 1103.6,1563.9 1102.8,1553.0 1101.7,1546.0 1100.5,1529.7 1099.7,1514.9 1098.6,1487.7 1097.7,1465.1 1096.3,1455.0 1096.1,1420.0 1096.1,1420.0 1095.6,1404.0 1094.6,1348.0 1093.6,1245.0 1092.4,1245.0 1092.4,1278.0 1091.1,1338.0 1090.5,1396.0 1089.9,1420.0 1089.9,1420.0 1089.6,1450.3 1088.5,1473.7 1088.0,1504.0 1086.5,1507.1 1086.9,1524.2 1085.7,1535.9 1083.7,1553.0 1082.6,1560.8 1081.0,1568.6 1080.2,1583.3 1077.1,1584.9 1075.6,1591.1 1071.7,1594.2 1068.6,1597.3 1067.0,1604.8 1063.9,1607.5 1060.0,1608.7 1057.7,1606.7 1056.9,1601.2 1053.8,1599.7 1051.0,1598.1 1050.4,1609.8 1046.0,1613.7 1042.1,1614.2 1039.5,1612.1 1039.0,1603.3 1036.7,1602.0 1034.3,1598.9 1031.2,1595.8 1030.5,1585.7 1029.7,1572.5 1027.3,1570.6 1025.5,1567.8 1024.5,1550.7 1023.5,1527.3 1021.4,1493.1 1020.3,1456.6 1020.3,1420.0 1020.3,1420.0 1019.0,1386.0 1017.9,1321.8 1016.9,1245.0 1016.3,1100.0 1015.3,1084.7 1014.9,1100.0 1013.5,1215.0 1012.5,1301.6 1011.0,1420.0 1011.0,1420.0 1010.7,1451.9 1009.9,1469.8 1008.7,1494.7 1007.6,1519.6 1006.3,1535.1 1005.6,1549.1 1004.0,1550.7 1004.0,1570.9 1002.9,1581.8 1001.2,1583.3 1000.6,1588.8 998.1,1590.3 997.5,1597.3 995.5,1599.7 993.9,1605.9 990.0,1608.2 988.0,1612.9 986.9,1621.5 980.4,1621.8 979.9,1625.4 977.6,1627.4 973.7,1626.9 969.8,1630.0 965.9,1630.8 962.8,1628.5 962.0,1623.8 958.1,1623.0 950.3,1622.6 948.3,1620.7 947.7,1601.2 946.4,1596.6 945.7,1562.3 944.1,1528.9 943.3,1455.8 943.4,1455.8 943.0,1455.8 942.9,1510.2 941.8,1561.6 940.7,1593.5 939.4,1598.9 938.7,1609.0 936.3,1613.7 935.6,1623.8 933.2,1626.1 930.9,1629.7 924.7,1630.0 920.0,1630.8 919.6,1631.1 917.5,1635.8 915.4,1637.9 911.9,1639.6 907.6,1638.6 904.8,1640.7 901.3,1641.4 899.2,1640.7 896.4,1643.2 892.2,1643.2 888.6,1642.4 885.8,1642.8 883.0,1646.3 880.2,1646.3 877.8,1643.5 876.0,1640.7 873.9,1643.8 871.1,1644.6 868.2,1643.8 866.6,1640.7 863.3,1639.3 859.1,1638.6 856.3,1636.5 853.5,1638.2 850.7,1637.6 848.5,1635.8 847.1,1627.3 845.7,1625.9 844.0,1628.0 843.6,1641.4 842.2,1643.5 839.4,1646.3 835.2,1647.0 831.0,1647.7 828.1,1647.0 825.3,1644.2 822.5,1645.2 818.3,1645.2 815.5,1643.8 812.0,1643.8 809.9,1646.3 807.0,1648.4 802.1,1649.4 799.3,1649.1 795.8,1649.4 793.0,1647.5 790.9,1645.6 787.3,1645.2 784.9,1643.2 783.8,1637.6 779.9,1633.7 779.3,1630.2 777.2,1630.2 776.8,1635.1 775.1,1637.9 774.3,1651.7 771.2,1653.7 766.9,1653.7 764.4,1652.2 762.0,1648.4 759.9,1647.5 755.7,1647.5 753.6,1645.6 752.2,1635.1 750.8,1631.6 747.2,1632.5 744.4,1631.6 741.9,1628.7 741.6,1637.2 740.5,1639.3 738.1,1640.7 736.0,1644.2 733.2,1644.9 731.8,1649.1 728.2,1650.6 725.0,1648.9 723.3,1645.6 719.8,1647.0 716.3,1647.7 714.9,1652.0 711.4,1653.7 707.8,1653.1 704.7,1654.1 703.6,1657.3 700.8,1659.7 697.7,1659.3 695.2,1655.9 693.1,1653.7 688.1,1653.4 685.6,1652.0 684.6,1648.4 679.7,1648.0 678.6,1652.2 676.2,1654.5 671.3,1654.8 668.4,1655.9 663.5,1656.5 660.0,1655.5 660.0,1655.8 655.5,1654.4 652.0,1653.0 649.9,1648.7 647.0,1651.6 644.9,1657.2 640.7,1658.6 636.5,1657.6 633.0,1655.8 628.0,1657.6 625.2,1655.8 623.1,1647.3 621.0,1645.2 618.2,1653.0 613.3,1654.4 609.1,1653.7 605.5,1655.8 602.0,1655.8 597.1,1655.1 592.9,1655.8 590.8,1661.4 587.2,1662.8 583.7,1660.7 583.0,1650.9 580.2,1653.0 577.4,1653.7 575.3,1658.6 571.8,1659.6 566.8,1656.5 564.0,1653.7 562.6,1660.7 558.4,1661.8 555.6,1660.7 554.9,1652.3 551.4,1655.4 547.1,1656.5 544.3,1659.3 541.5,1660.7 538.0,1658.6 535.2,1659.6 531.7,1658.6 530.3,1653.7 528.1,1656.2 523.9,1656.2 521.1,1652.3 519.7,1662.1 516.2,1663.8 513.4,1661.4 512.0,1656.2 507.7,1656.2 505.6,1653.7 502.8,1656.5 499.3,1657.6 495.1,1656.5 490.9,1655.8 488.0,1656.5 485.9,1663.2 482.4,1663.8 479.6,1662.8 477.5,1653.7 474.0,1657.2 470.5,1657.2 467.6,1654.4 464.1,1653.7 461.3,1652.3 457.1,1655.8 451.5,1655.1 446.5,1658.6 442.3,1658.6 440.2,1664.9 436.7,1666.6 433.9,1664.9 432.5,1659.0 427.5,1659.6 424.0,1657.9 419.8,1658.6 417.0,1666.3 413.5,1667.7 411.4,1667.0 408.5,1662.8 405.0,1662.8 401.5,1660.7 398.7,1663.5 393.8,1664.2 390.3,1668.4 384.6,1668.4 382.5,1666.3 378.3,1671.7 374.8,1672.0 375.0,1672.0" fill="#f00" shape-rendering="crispEdges"/>
<rect x="1817" y="66" width="600" height="124.3" fill="#fff" stroke="#000" stroke-width="2.4"/>
<line x1="1828.6" y1="131.3" x2="2020" y2="131.3" stroke="#f00" stroke-width="9.3" stroke-linecap="round"/>
<g fill="#000" shape-rendering="crispEdges">
<rect x="337" y="60" width="2087" height="13"/>
<rect x="337" y="1720" width="2087" height="13"/>
<rect x="363" y="60" width="12" height="1682"/>
<rect x="2411" y="60" width="13" height="1699"/>
<rect x="337" y="60.0" width="30" height="13"/>
<rect x="353" y="226.0" width="14" height="13"/>
<rect x="337" y="392.0" width="30" height="13"/>
<rect x="353" y="558.0" width="14" height="13"/>
<rect x="337" y="724.0" width="30" height="13"/>
<rect x="353" y="890.0" width="14" height="13"/>
<rect x="337" y="1056.0" width="30" height="13"/>
<rect x="353" y="1222.0" width="14" height="13"/>
<rect x="337" y="1388.0" width="30" height="13"/>
<rect x="353" y="1554.0" width="14" height="13"/>
<rect x="337" y="1720.0" width="30" height="13"/>
<rect x="656" y="1726" width="13" height="33"/>
<rect x="948" y="1726" width="13" height="16"/>
<rect x="1241" y="1726" width="13" height="33"/>
<rect x="1533" y="1726" width="13" height="16"/>
<rect x="1826" y="1726" width="13" height="33"/>
<rect x="2119" y="1726" width="13" height="16"/>
</g>
<g font-family="'Liberation Sans', sans-serif" font-weight="bold" font-size="86px" fill="#000" style="font-kerning:none">
<text transform="translate(314.0,92.4) scale(1,1.04)" text-anchor="end">8000</text>
<text transform="translate(314.0,313.6) scale(1,1.04)" text-anchor="end">7000</text>
<text transform="translate(314.0,534.8) scale(1,1.04)" text-anchor="end">6000</text>
<text transform="translate(314.0,756.0) scale(1,1.04)" text-anchor="end">5000</text>
<text transform="translate(314.0,977.2) scale(1,1.04)" text-anchor="end">4000</text>
<text transform="translate(314.0,1198.4) scale(1,1.04)" text-anchor="end">3000</text>
<text transform="translate(314.0,1419.6) scale(1,1.04)" text-anchor="end">2000</text>
<text transform="translate(314.0,1640.8) scale(1,1.04)" text-anchor="end">1000</text>
<text transform="translate(661.8,1848.7) scale(1,1.04)" text-anchor="middle">20</text>
<text transform="translate(1246.7,1848.7) scale(1,1.04)" text-anchor="middle">40</text>
<text transform="translate(1832.0,1848.7) scale(1,1.04)" text-anchor="middle">60</text>
<text transform="translate(2417.0,1848.7) scale(1,1.04)" text-anchor="middle">80</text>
<text transform="translate(87.9,896.0) rotate(-90)" text-anchor="middle">Intensity (a.u)</text>
<text transform="translate(1346.9,2003.0) scale(1,1.04)">2</text>
<text transform="translate(1394.0,2003.0) scale(1.066,1.016)" font-family="'Liberation Serif', 'DejaVu Serif', serif">θ</text>
<text transform="translate(2042.5,161.4) scale(1,1.035)">ZnO NPs</text>
</g>
<g font-family="'Liberation Sans', sans-serif" font-weight="bold" font-size="59px" fill="#000" text-anchor="middle" style="font-kerning:none">
<text transform="translate(944.5,159.5) rotate(-90) scale(1,1.0)">(100)</text>
<text transform="translate(1055.5,180.5) rotate(-90) scale(1,1.0)">(002)</text>
<text transform="translate(1222.5,164.4) rotate(-90) scale(1,1.0)">(101)</text>
<text transform="translate(1357.5,1393.6) rotate(-90) scale(1,1.0)">(102)</text>
<text transform="translate(1758.5,1071.5) rotate(-90) scale(1,1.0)">(110)</text>
<text transform="translate(1961.5,1155) rotate(-90) scale(1,1.0)">(103)</text>
<text transform="translate(2108.5,1210.6) rotate(-90) scale(1,1.0)">(200)</text>
</g>
</svg>
</body></html>
